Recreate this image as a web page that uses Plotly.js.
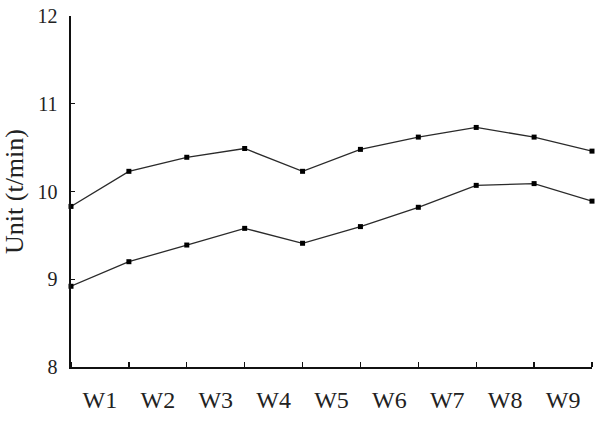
<!DOCTYPE html>
<html>
<head>
<meta charset="utf-8">
<script src="https://cdn.plot.ly/plotly-3.0.1.min.js"></script>
<style>html,body{margin:0;padding:0;background:#fff;}#chart{width:600px;height:421px;}</style>
</head>
<body>
<div id="chart"></div>
<script>
// Boundary points (10 per series), plotted at tick boundaries
const upperSeries = [9.83, 10.23, 10.39, 10.49, 10.23, 10.48, 10.62, 10.73, 10.62, 10.46];
const lowerSeries = [8.92, 9.20, 9.39, 9.58, 9.41, 9.60, 9.82, 10.07, 10.09, 9.89];
const weekLabels = ['W1', 'W2', 'W3', 'W4', 'W5', 'W6', 'W7', 'W8', 'W9'];
const yTicks = [8, 9, 10, 11, 12];

const xPos = upperSeries.map((_, i) => i);
const labelPos = weekLabels.map((_, i) => i + 0.5);
const boundaryPos = [...weekLabels.map((_, i) => i), weekLabels.length];

const lineStyle = {color: '#2a2a2a', width: 1.3};
const markerStyle = {symbol: 'square', size: 5, color: '#000'};

const traces = [
  {x: xPos, y: upperSeries, mode: 'lines+markers', line: lineStyle, marker: markerStyle, showlegend: false, cliponaxis: false},
  {x: xPos, y: lowerSeries, mode: 'lines+markers', line: lineStyle, marker: markerStyle, showlegend: false, cliponaxis: false}
];

const serif = '"Liberation Serif", "DejaVu Serif", serif';

const layout = {
  width: 600, height: 421,
  margin: {l: 71, r: 8, t: 16, b: 54},
  paper_bgcolor: '#fff', plot_bgcolor: '#fff',
  showlegend: false,
  xaxis: {
    range: [0, weekLabels.length],
    tickmode: 'array', tickvals: labelPos, ticktext: weekLabels,
    ticks: '', showgrid: false, zeroline: false,
    showline: true, linecolor: '#111', linewidth: 1.6,
    tickfont: {family: serif, size: 24, color: '#222'},
    ticklabelstandoff: 11,
    minor: {tickmode: 'array', tickvals: boundaryPos, ticks: 'inside', ticklen: 5, tickwidth: 1.4, tickcolor: '#111', showgrid: false}
  },
  yaxis: {
    range: [8, 12],
    tickmode: 'array', tickvals: yTicks,
    ticks: 'inside', ticklen: 4, tickwidth: 1.2, tickcolor: '#111',
    showgrid: false, zeroline: false,
    showline: true, linecolor: '#111', linewidth: 1.6,
    tickfont: {family: serif, size: 20, color: '#222'},
    ticklabelstandoff: 8,
    title: {text: 'Unit (t/min)', font: {family: serif, size: 26, color: '#222'}, standoff: 12}
  }
};

Plotly.newPlot('chart', traces, layout, {displayModeBar: false, staticPlot: true});
</script>
</body>
</html>
